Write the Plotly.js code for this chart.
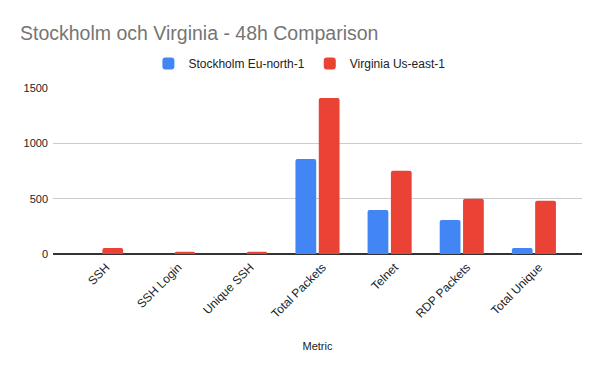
<!DOCTYPE html>
<html>
<head>
<meta charset="utf-8">
<script src="https://cdn.plot.ly/plotly-3.0.1.min.js"></script>
<style>html,body{margin:0;padding:0;background:#fff;}#chart{width:600px;height:371px;}</style>
</head>
<body>
<div id="chart"></div>
<script>
const categories = ["SSH", "SSH Login", "Unique SSH", "Total Packets", "Telnet", "RDP Packets", "Total Unique"];
const stockholm = [0, 0, 0, 859, 398, 307, 54];
const virginia = [55, 21, 21, 1410, 753, 500, 482];
const seriesNames = ["Stockholm Eu-north-1", "Virginia Us-east-1"];
const yTicks = [0, 500, 1000, 1500];

const font = "Arial, 'Liberation Sans', sans-serif";
const data = [
  {type: "bar", name: seriesNames[0], x: categories, y: stockholm, marker: {color: "#4285F4"}, hoverinfo: "x+y"},
  {type: "bar", name: seriesNames[1], x: categories, y: virginia, marker: {color: "#EA4335"}, hoverinfo: "x+y"}
];
const layout = {
  width: 600, height: 371,
  margin: {l: 53, r: 18, t: 88, b: 117},
  paper_bgcolor: "#fff", plot_bgcolor: "#fff",
  font: {family: font, size: 12, color: "#222"},
  title: {text: "Stockholm och Virginia - 48h Comparison", x: 20/600, xref: "container", xanchor: "left",
          y: 1 - 26/371, yref: "container", yanchor: "top", font: {family: font, size: 19.5, color: "#757575"}},
  barmode: "group", bargap: 0.353, bargroupgap: 0.11, barcornerradius: 2,
  showlegend: true,
  legend: {orientation: "h", x: 0.499, xanchor: "center", xref: "container", y: 1 - 49/371, yref: "container", yanchor: "top",
           font: {family: font, size: 12, color: "#222"}, itemwidth: 30, tracegroupgap: 0},
  xaxis: {range: [-0.667, 6.667], tickangle: -45, showgrid: false, showline: false, ticks: "",
          ticklabelshift: 5, ticklabelstandoff: 3,
          tickfont: {size: 12, color: "#222"},
          title: {text: "Metric", font: {size: 11, color: "#222"}, standoff: 22}, automargin: false},
  yaxis: {range: [0, 1500], tickvals: yTicks, ticktext: yTicks.map(String), gridcolor: "#cccccc", gridwidth: 1,
          zeroline: true, zerolinecolor: "#333", zerolinewidth: 1.3, showline: false, ticks: "",
          ticklabelstandoff: 4, tickfont: {size: 11, color: "#222"}, automargin: false}
};
Plotly.newPlot("chart", data, layout, {displayModeBar: false, staticPlot: true});
</script>
</body>
</html>
